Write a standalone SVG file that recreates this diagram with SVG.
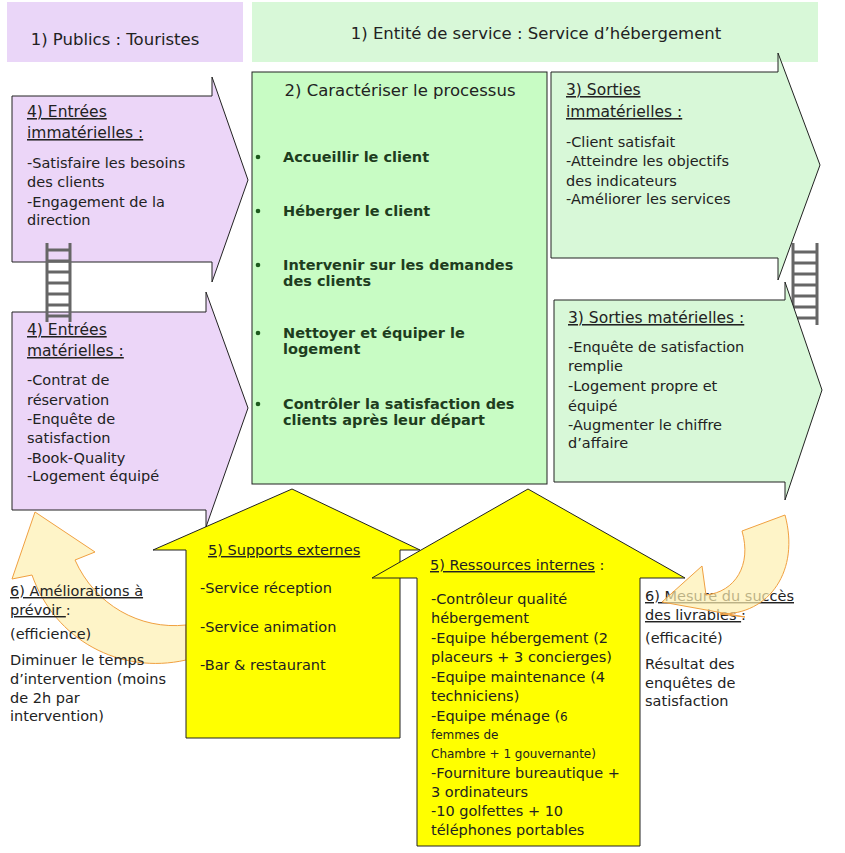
<svg xmlns="http://www.w3.org/2000/svg" width="845" height="853" viewBox="0 0 845 853">
<style>
text{font-family:"DejaVu Sans","Liberation Sans",sans-serif;font-size:14.5px;fill:#222}
.u{text-decoration:underline}
.b{font-weight:bold;fill:#1e3d1e}
.sh{stroke:#222;stroke-width:1}
.lad{stroke:#666;stroke-width:3;fill:none}
.cur{fill:#fdf0b0;fill-opacity:0.7;stroke:#f0a040;stroke-width:1}
</style>
<rect width="845" height="853" fill="#fff"/>
<g id="publics"><rect x="7" y="2" width="236" height="60" fill="#ead6f8"/><text x="115" y="45" text-anchor="middle" style="font-size:16.5px">1) Publics : Touristes</text></g>
<g id="entite"><rect x="252" y="2" width="566" height="60" fill="#d8f8d8"/><text x="536" y="39" text-anchor="middle" style="font-size:16.5px">1) Entité de service : Service d’hébergement</text></g>
<g id="entrees-imm"><path class="sh" d="M12,96H212V77L248,180L212,282V262H12Z" fill="#ecd6f8"/>
<text x="27" y="117" class="u" style="font-size:15.5px">4) Entrées</text><text x="27" y="138" class="u" style="font-size:15.5px">immatérielles :</text>
<text x="27" y="168">-Satisfaire les besoins</text><text x="27" y="187">des clients</text><text x="27" y="207">-Engagement de la</text><text x="27" y="225">direction</text></g>
<g id="entrees-mat"><path class="sh" d="M12,312H206V292L248,408L206,527V510H12Z" fill="#ecd6f8"/>
<text x="27" y="335" class="u" style="font-size:15.5px">4) Entrées</text><text x="27" y="356" class="u" style="font-size:15.5px">matérielles :</text>
<text x="27" y="385">-Contrat de</text><text x="27" y="405">réservation</text><text x="27" y="424">-Enquête de</text><text x="27" y="443">satisfaction</text><text x="27" y="463">-Book-Quality</text><text x="27" y="481">-Logement équipé</text></g>
<g id="ladders"><path class="lad" d="M47,243V322M70,243V322M47,250H70M47,261H70M47,272H70M47,283H70M47,294H70M47,305H70M47,316H70"/>
<path class="lad" d="M793,243V325M817,243V325M793,252H817M793,263H817M793,274H817M793,285H817M793,296H817M793,307H817M793,318H817"/></g>
<g id="processus"><rect class="sh" x="252" y="72" width="295" height="412" fill="#c8fcc4"/>
<text x="400" y="96" text-anchor="middle" style="font-size:16.5px">2) Caractériser le processus</text>
<g fill="#1e5a1e"><circle cx="258" cy="157" r="2.3"/><circle cx="258" cy="211" r="2.3"/><circle cx="258" cy="265" r="2.3"/><circle cx="258" cy="333" r="2.3"/><circle cx="258" cy="404" r="2.3"/></g>
<text class="b" x="283" y="162">Accueillir le client</text><text class="b" x="283" y="216">Héberger le client</text>
<text class="b" x="283" y="270">Intervenir sur les demandes</text><text class="b" x="283" y="286">des clients</text>
<text class="b" x="283" y="338">Nettoyer et équiper le</text><text class="b" x="283" y="354">logement</text>
<text class="b" x="283" y="409">Contrôler la satisfaction des</text><text class="b" x="283" y="425">clients après leur départ</text></g>
<g id="sorties-imm"><path class="sh" d="M551,72H778V53L820,165L778,280V258H551Z" fill="#d8f8d8"/>
<text x="566" y="95" class="u" style="font-size:15.5px">3) Sorties</text><text x="566" y="117" class="u" style="font-size:15.5px">immatérielles :</text>
<text x="566" y="147">-Client satisfait</text><text x="566" y="166">-Atteindre les objectifs</text><text x="566" y="186">des indicateurs</text><text x="566" y="204">-Améliorer les services</text></g>
<g id="sorties-mat"><path class="sh" d="M554,300H785V282L822,390L785,500V482H554Z" fill="#d8f8d8"/>
<text x="568" y="323" class="u" style="font-size:15.5px">3) Sorties matérielles :</text>
<text x="568" y="352">-Enquête de satisfaction</text><text x="568" y="371">remplie</text><text x="568" y="391">-Logement propre et</text><text x="568" y="411">équipé</text><text x="568" y="430">-Augmenter le chiffre</text><text x="568" y="448">d’affaire</text></g>
<g id="connectors">
<path class="cur" d="M186,660C120,675 55,640 32,575L12,579L35,512L95,552L75,560C95,605 140,630 186,625Z"/>
</g>
<g id="supports"><path class="sh" d="M292,489L420,550H400V738H186V550H153Z" fill="#ffff00"/>
<text x="208" y="555" class="u">5) Supports externes</text>
<text x="200" y="593">-Service réception</text><text x="200" y="632">-Service animation</text><text x="200" y="670">-Bar &amp; restaurant</text></g>
<g id="ressources"><path class="sh" d="M528,489L685,578H640V846H417V578H372Z" fill="#ffff00"/>
<text x="430" y="570"><tspan class="u">5) Ressources internes</tspan> :</text>
<text x="431" y="604">-Contrôleur qualité</text><text x="431" y="623">hébergement</text><text x="431" y="643">-Equipe hébergement (2</text><text x="431" y="662">placeurs + 3 concierges)</text><text x="431" y="682">-Equipe maintenance (4</text><text x="431" y="701">techniciens)</text><text x="431" y="721">-Equipe ménage (<tspan style="font-size:12px">6</tspan></text>
<text x="431" y="739" style="font-size:12px">femmes de</text><text x="431" y="758" style="font-size:12px">Chambre + 1 gouvernante)</text>
<text x="431" y="778">-Fourniture bureautique +</text><text x="431" y="797">3 ordinateurs</text><text x="431" y="816">-10 golfettes + 10</text><text x="431" y="835">téléphones portables</text></g>
<g id="ameliorations"><text x="10" y="596"><tspan class="u">6) Améliorations à</tspan></text><text x="10" y="615"><tspan class="u">prévoir </tspan>:</text>
<text x="10" y="639">(efficience)</text><text x="10" y="665">Diminuer le temps</text><text x="10" y="684">d’intervention (moins</text><text x="10" y="703">de 2h par</text><text x="10" y="721">intervention)</text></g>
<g id="mesure"><text x="645" y="601"><tspan class="u">6) Mesure du succès</tspan></text><text x="645" y="620"><tspan class="u">des livrables </tspan>:</text>
<text x="645" y="643">(efficacité)</text><text x="645" y="669">Résultat des</text><text x="645" y="688">enquêtes de</text><text x="645" y="706">satisfaction</text></g>
<g id="connectors2">
<path class="cur" d="M742,531L785,515C800,570 770,615 720,614L745,617L662,602L702,566L706,595C735,592 752,565 742,531Z"/>
</g>
</svg>
